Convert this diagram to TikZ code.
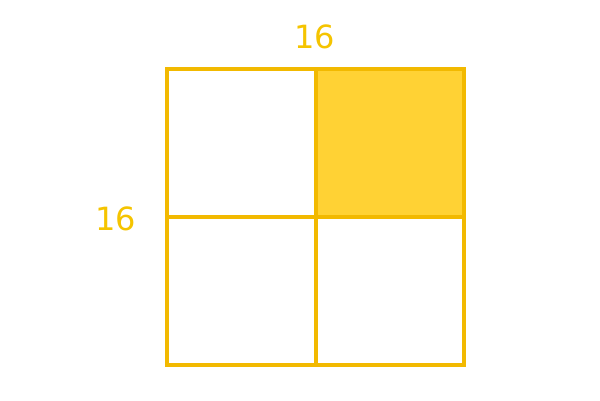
\documentclass[tikz,border=0pt]{standalone}
\usepackage{fontspec}
\setmainfont{DejaVu Sans}
\definecolor{gridline}{HTML}{F2B900}
\definecolor{cellfill}{HTML}{FFD234}
\definecolor{labeltext}{HTML}{F5C400}
\begin{document}
\begin{tikzpicture}[x=1pt,y=-1pt,
  cell/.style={draw=gridline,line width=4pt},
  lbl/.style={text=labeltext,font=\fontsize{32}{36}\selectfont,inner sep=0pt,anchor=center}]
\useasboundingbox (0,0) rectangle (600,400);
\fill[white] (0,0) rectangle (600,400);
\fill[cellfill] (316,69) rectangle (464,217);
\draw[cell] (167,69) rectangle (464,365);
\draw[cell] (316,69) -- (316,365);
\draw[cell] (167,217) -- (464,217);
\node[lbl] (top) at (315,37) {16};
\node[lbl] (left) at (116,219) {16};
\end{tikzpicture}
\end{document}
